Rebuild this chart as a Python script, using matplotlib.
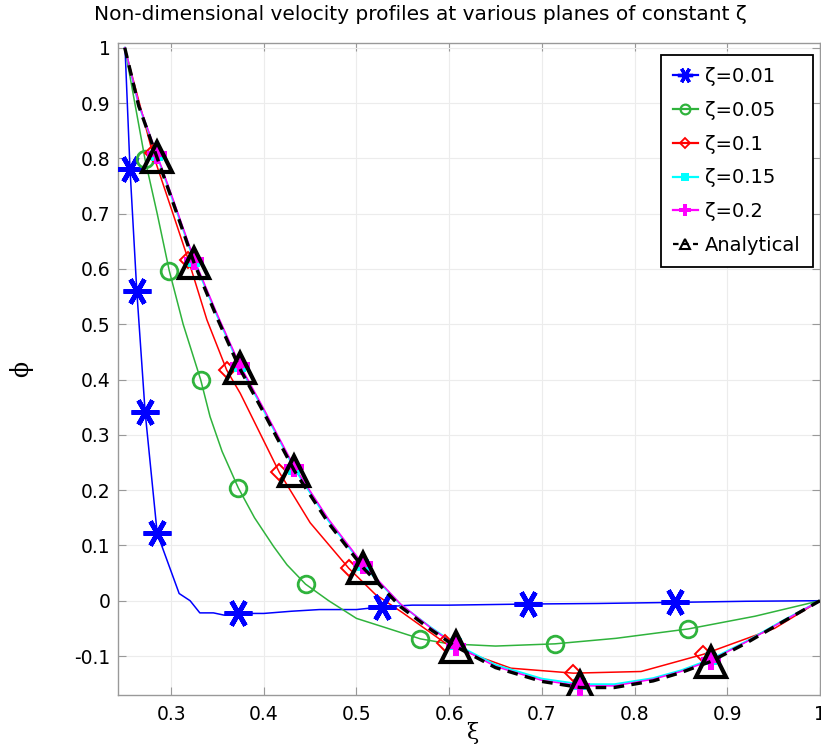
import matplotlib
matplotlib.use("Agg")
import matplotlib.pyplot as plt
from matplotlib.lines import Line2D

# ---------------- data ----------------
# zeta = 0.01
x_z001 = [0.2503, 0.2557, 0.263, 0.272, 0.285, 0.3087, 0.3205, 0.331, 0.3457, 0.357, 0.372,
          0.40, 0.43, 0.46, 0.50, 0.528, 0.56, 0.60, 0.685, 0.76, 0.844, 0.92, 1.0]
y_z001 = [1.0, 0.78, 0.56, 0.341, 0.122, 0.013, 0.0, -0.022, -0.022, -0.026, -0.023,
          -0.023, -0.019, -0.016, -0.016, -0.011, -0.008, -0.008, -0.006, -0.005, -0.003, -0.001, 0.0]
mx_z001 = [0.2557, 0.263, 0.272, 0.285, 0.372, 0.528, 0.685, 0.844]
my_z001 = [0.78, 0.56, 0.341, 0.122, -0.023, -0.011, -0.006, -0.003]

# zeta = 0.05
x_z005 = [0.25, 0.2719, 0.285, 0.298, 0.313, 0.332, 0.342, 0.355, 0.3725, 0.39, 0.4106, 0.425,
          0.445, 0.47, 0.50, 0.53, 0.569, 0.60, 0.65, 0.714, 0.78, 0.858, 0.93, 1.0]
y_z005 = [1.0, 0.798, 0.70, 0.597, 0.50, 0.399, 0.333, 0.27, 0.204, 0.15, 0.098, 0.065,
          0.030, 0.0, -0.032, -0.048, -0.069, -0.078, -0.082, -0.078, -0.068, -0.051, -0.028, 0.0]
mx_z005 = [0.2719, 0.298, 0.332, 0.3725, 0.445, 0.569, 0.714, 0.858]
my_z005 = [0.798, 0.597, 0.399, 0.204, 0.030, -0.069, -0.078, -0.051]

# zeta = 0.1
x_z01 = [0.25, 0.28, 0.30, 0.3187, 0.3386, 0.360, 0.3746, 0.4168, 0.45, 0.4917, 0.52, 0.55,
         0.596, 0.63, 0.6665, 0.734, 0.807, 0.874, 0.951, 1.0]
y_z01 = [1.0, 0.81, 0.71, 0.616, 0.508, 0.417, 0.375, 0.232, 0.141, 0.0586, 0.012, -0.022,
         -0.077, -0.100, -0.122, -0.131, -0.128, -0.097, -0.050, 0.0]
mx_z01 = [0.28, 0.3187, 0.360, 0.4168, 0.4917, 0.596, 0.734, 0.874]
my_z01 = [0.81, 0.616, 0.417, 0.232, 0.0586, -0.077, -0.131, -0.097]

# common abscissa for the near-analytical profiles
x_fine = [0.25, 0.265, 0.2845, 0.30, 0.325, 0.35, 0.374, 0.40, 0.433, 0.47, 0.507, 0.5476,
          0.58, 0.607, 0.65, 0.70, 0.7414, 0.778, 0.82, 0.85, 0.882, 0.92, 0.96, 1.0]
# zeta = 0.15
y_z015 = [1.0, 0.897, 0.806, 0.733, 0.614, 0.514, 0.424, 0.344, 0.239, 0.144, 0.064, -0.007,
          -0.048, -0.079, -0.116, -0.141, -0.151, -0.151, -0.140, -0.126, -0.106, -0.074, -0.036, 0.0]
# zeta = 0.2
y_z02 = [1.0, 0.899, 0.808, 0.736, 0.617, 0.517, 0.427, 0.347, 0.242, 0.147, 0.066, -0.006,
         -0.049, -0.081, -0.119, -0.144, -0.154, -0.154, -0.142, -0.128, -0.108, -0.075, -0.037, 0.0]
# analytical
y_an = [1.0, 0.895, 0.803, 0.73, 0.610, 0.51, 0.420, 0.34, 0.235, 0.14, 0.060, -0.011,
        -0.052, -0.083, -0.121, -0.146, -0.157, -0.157, -0.145, -0.130, -0.110, -0.077, -0.038, 0.0]

mx_an = [0.2845, 0.325, 0.374, 0.433, 0.507, 0.607, 0.7414, 0.882]
my_z015 = [0.806, 0.614, 0.424, 0.239, 0.064, -0.079, -0.151, -0.106]
my_z02 = [0.808, 0.617, 0.427, 0.242, 0.066, -0.081, -0.154, -0.108]
my_an = [0.803, 0.610, 0.420, 0.235, 0.060, -0.083, -0.156, -0.110]

labels = ["ζ=0.01", "ζ=0.05", "ζ=0.1", "ζ=0.15", "ζ=0.2", "Analytical"]
x_ticks = [0.3, 0.4, 0.5, 0.6, 0.7, 0.8, 0.9, 1.0]
x_ticklabels = ["0.3", "0.4", "0.5", "0.6", "0.7", "0.8", "0.9", "1"]
y_ticks = [-0.1, 0.0, 0.1, 0.2, 0.3, 0.4, 0.5, 0.6, 0.7, 0.8, 0.9, 1.0]
y_ticklabels = ["-0.1", "0", "0.1", "0.2", "0.3", "0.4", "0.5", "0.6", "0.7", "0.8", "0.9", "1"]

# ---------------- figure ----------------
W, H = 821, 747
fig = plt.figure(figsize=(W / 100, H / 100), dpi=100)
L, R, T, B = 117.7, 820, 43.3, 695
ax = fig.add_axes([L / W, 1 - B / H, (R - L) / W, (B - T) / H])

BLUE = "#0000ff"
GREEN = "#2fb33c"
RED = "#ff0000"
CYAN = "#00ffff"
MAG = "#ff00ff"

star = (6, 2, 90)

ax.plot(x_z001, y_z001, color=BLUE, lw=1.1, zorder=3)
ax.plot(mx_z001, my_z001, ls="none", marker=star, ms=20, mew=3.4, color=BLUE, zorder=4)

ax.plot(x_z005, y_z005, color=GREEN, lw=1.1, zorder=3)
ax.plot(mx_z005, my_z005, ls="none", marker="o", ms=12, mew=2.0, mfc="none", mec=GREEN, zorder=4)

ax.plot(x_z01, y_z01, color=RED, lw=1.1, zorder=3)
ax.plot(mx_z01, my_z01, ls="none", marker="D", ms=8.5, mew=1.4, mfc="none", mec=RED, zorder=4)

ax.plot(x_fine, y_z015, color=CYAN, lw=1.4, zorder=3)
ax.plot(mx_an, my_z015, ls="none", marker="s", ms=9, mew=0, color=CYAN, zorder=4)

ax.plot(x_fine, y_z02, color=MAG, lw=1.1, zorder=3)
ax.plot(mx_an, my_z02, ls="none", marker="P", ms=15, mew=0, color=MAG, zorder=5)

ax.plot(x_fine, y_an, color="black", lw=2.4, ls=(0, (3.2, 2.2)), zorder=6)
ax.plot(mx_an, my_an, ls="none", marker="^", ms=21, mew=3.0, mfc="none", mec="black", zorder=7)

ax.set_xlim(0.2424, 1.0)
ax.set_ylim(-0.1705, 1.008)
ax.set_xticks(x_ticks)
ax.set_xticklabels(x_ticklabels)
ax.set_yticks(y_ticks)
ax.set_yticklabels(y_ticklabels)
ax.tick_params(axis="both", which="both", direction="in", length=6, width=0.8,
               color="#999999", labelsize=13.5, labelcolor="black",
               top=True, right=True, pad=5)
ax.tick_params(axis="x", pad=7)
for s in ax.spines.values():
    s.set_color("#999999")
    s.set_linewidth(1.0)
ax.grid(True, color="#ececec", lw=0.8)
ax.set_axisbelow(True)

# legend
handles = [
    Line2D([], [], color=BLUE, lw=1.6, marker=star, ms=11, mew=2.4),
    Line2D([], [], color=GREEN, lw=1.6, marker="o", ms=7, mew=1.6, mfc="none"),
    Line2D([], [], color=RED, lw=1.6, marker="D", ms=5.5, mew=1.3, mfc="none"),
    Line2D([], [], color=CYAN, lw=1.6, marker="s", ms=6, mew=0),
    Line2D([], [], color=MAG, lw=1.6, marker="P", ms=9, mew=0),
    Line2D([], [], color="black", lw=1.6, ls=(0, (2.5, 2.0)), marker="^", ms=7, mew=1.5, mfc="none"),
]
leg = ax.legend(handles, labels, loc="upper right", bbox_to_anchor=(0.9896, 0.982),
                borderaxespad=0, fontsize=14, frameon=True, fancybox=False,
                handlelength=1.3, handletextpad=0.35, labelspacing=0.76,
                borderpad=0.62, framealpha=1)
leg.get_frame().set_edgecolor("black")
leg.get_frame().set_linewidth(1.3)
leg.set_zorder(10)

fig.text(420 / W, 1 - 15 / H, "Non-dimensional velocity profiles at various planes of constant ζ",
         ha="center", va="center", fontsize=14.5)
fig.text(472 / W, 1 - 733 / H, "ξ", ha="center", va="center", fontsize=16, family="DejaVu Serif")
fig.text(21 / W, 1 - 369 / H, "ϕ", ha="center", va="center", fontsize=17, rotation=90,
         family="DejaVu Serif")

fig.savefig("out.png", dpi=100)
